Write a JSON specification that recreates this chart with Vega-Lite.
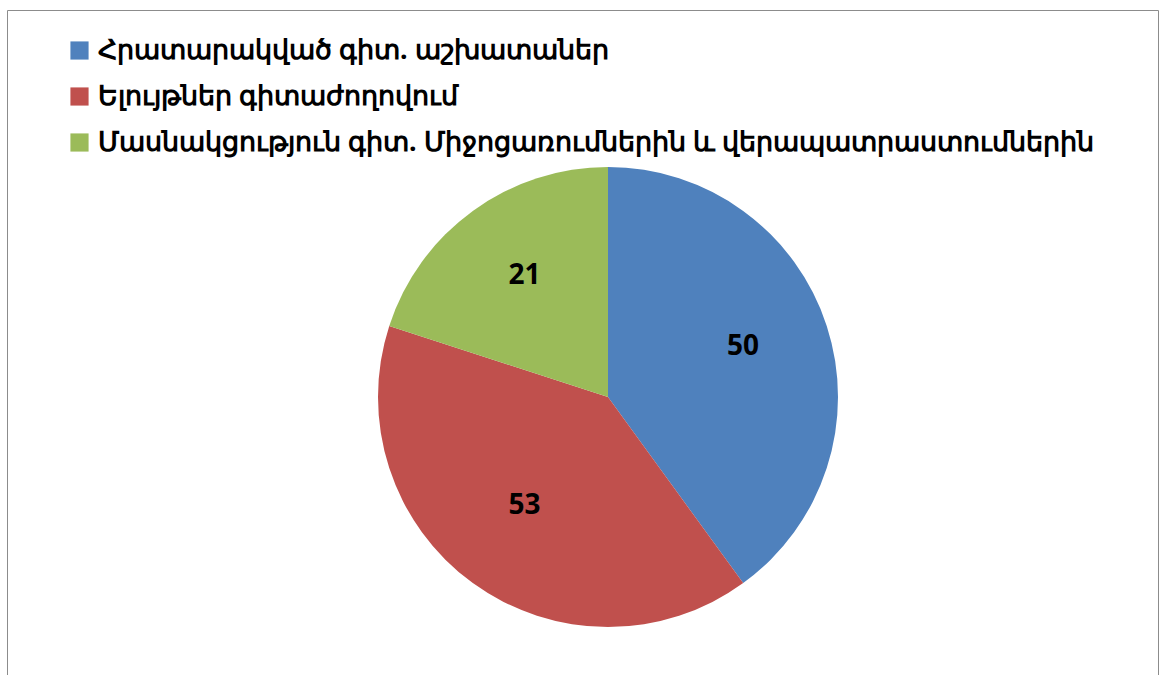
{
  "$schema": "https://vega.github.io/schema/vega-lite/v6.json",
  "width": 1151,
  "height": 666,
  "autosize": "none",
  "padding": {"left": 7, "top": 10, "right": 1, "bottom": 0},
  "background": "white",
  "view": {"stroke": "#8c8c8c", "strokeWidth": 1, "fill": "white"},
  "config": {
    "view": {"stroke": "#8c8c8c", "strokeWidth": 1},
    "font": "Noto Sans"
  },
  "data": {
    "values": [
      {"category": "Հրատարակված գիտ. աշխատաներ", "order": 1, "value": 50, "share": 40},
      {"category": "Ելույթներ գիտաժողովում", "order": 2, "value": 53, "share": 40},
      {"category": "Մասնակցություն գիտ. Միջոցառումներին և վերապատրաստումներին", "order": 3, "value": 21, "share": 20}
    ]
  },
  "encoding": {
    "theta": {"field": "share", "type": "quantitative", "stack": true},
    "order": {"field": "order", "type": "ordinal"},
    "color": {
      "field": "category",
      "type": "nominal",
      "sort": ["Հրատարակված գիտ. աշխատաներ", "Ելույթներ գիտաժողովում", "Մասնակցություն գիտ. Միջոցառումներին և վերապատրաստումներին"],
      "scale": {
        "domain": ["Հրատարակված գիտ. աշխատաներ", "Ելույթներ գիտաժողովում", "Մասնակցություն գիտ. Միջոցառումներին և վերապատրաստումներին"],
        "range": ["#4f81bd", "#c0504d", "#9bbb59"]
      },
      "legend": {
        "title": null,
        "orient": "none",
        "legendX": 59,
        "legendY": 27,
        "symbolType": "square",
        "symbolSize": 330,
        "symbolStrokeWidth": 0,
        "labelFontSize": 27,
        "labelFont": "Noto Sans",
        "labelFontWeight": "bold",
        "labelColor": "black",
        "labelLimit": 1100,
        "rowPadding": 18,
        "labelOffset": 5
      }
    }
  },
  "layer": [
    {
      "mark": {"type": "arc", "outerRadius": 230, "x": 601, "y": 387, "stroke": "white", "strokeWidth": 0}
    },
    {
      "mark": {"type": "text", "radius": 142, "x": 601, "y": 387, "dy": -6, "fontSize": 28, "fontWeight": "bold", "font": "Noto Sans", "color": "black"},
      "encoding": {
        "text": {"field": "value", "type": "quantitative"},
        "color": {"value": "black"}
      }
    }
  ]
}
